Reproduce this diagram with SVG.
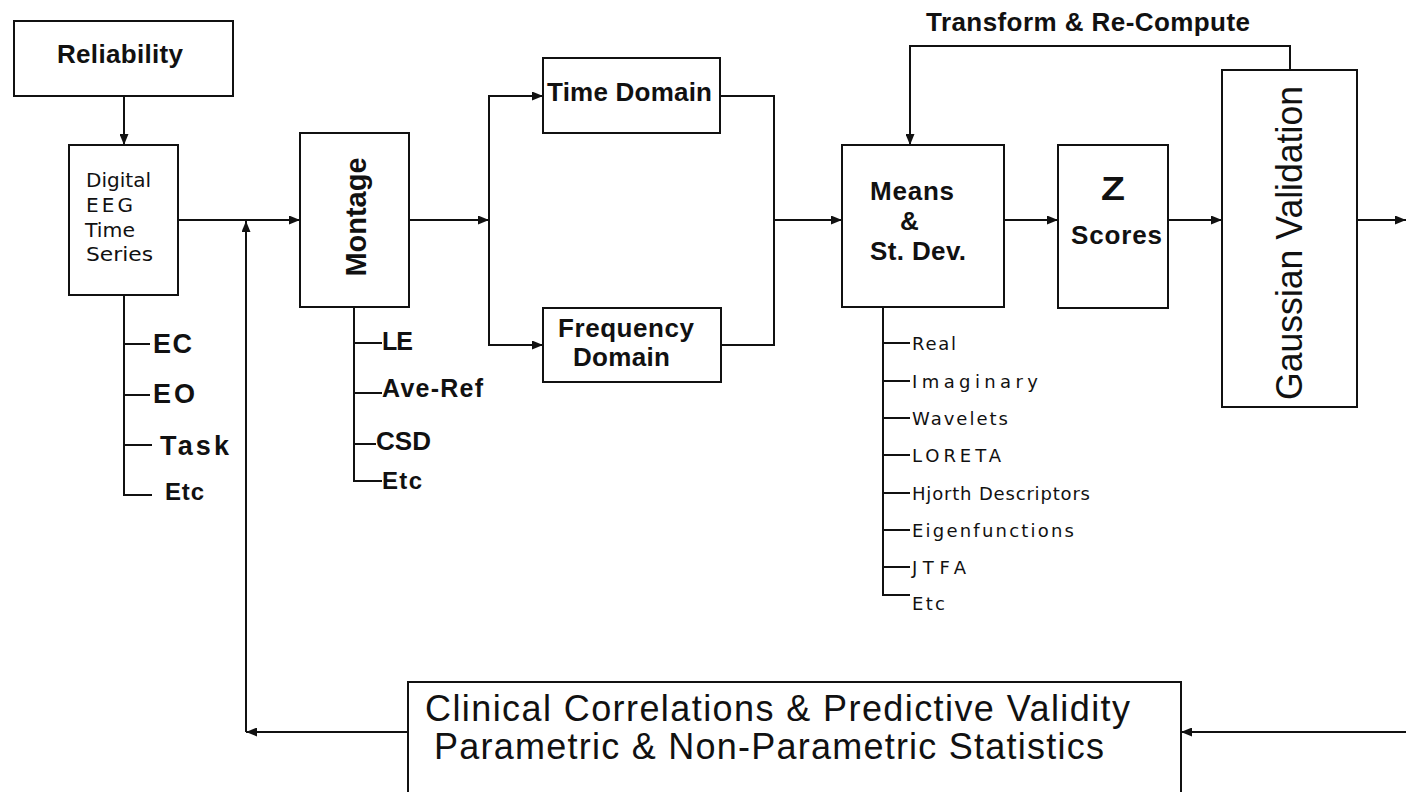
<svg xmlns="http://www.w3.org/2000/svg" width="1406" height="792" viewBox="0 0 1406 792">
<defs>
<marker id="arr" viewBox="0 0 11 9" refX="11" refY="4.5" markerWidth="11" markerHeight="9" markerUnits="userSpaceOnUse" orient="auto">
<path d="M0,0 L11,4.5 L0,9 z" fill="#111"/>
</marker>
<style>
.box{fill:#fff;stroke:#111;stroke-width:2}
.ln{fill:none;stroke:#111;stroke-width:2}
.ar{fill:none;stroke:#111;stroke-width:2;marker-end:url(#arr)}
.b{font-family:"Liberation Sans",Arial,sans-serif;font-weight:bold;fill:#111}
.r{font-family:"Liberation Sans",Arial,sans-serif;fill:#111}
.s{font-family:"DejaVu Sans",Verdana,sans-serif;font-size:18px;fill:#111}
.d{font-family:"DejaVu Sans",Verdana,sans-serif;font-size:20px;fill:#111}
</style>
</defs>
<rect width="1406" height="792" fill="#fff"/>

<g id="connectors">
<line class="ar" x1="124" y1="96" x2="124" y2="145"/>
<line class="ar" x1="178" y1="220" x2="300" y2="220"/>
<line class="ar" x1="408" y1="732" x2="246" y2="732"/>
<line class="ar" x1="246" y1="732" x2="246" y2="221"/>
<line class="ar" x1="409" y1="220" x2="489" y2="220"/>
<line class="ln" x1="489" y1="96" x2="489" y2="345"/>
<line class="ar" x1="488" y1="96" x2="543" y2="96"/>
<line class="ar" x1="488" y1="345" x2="543" y2="345"/>
<path class="ln" d="M721,96 H774 V345 H721"/>
<line class="ar" x1="774" y1="220" x2="842" y2="220"/>
<line class="ar" x1="1004" y1="220" x2="1058" y2="220"/>
<line class="ar" x1="1168" y1="220" x2="1222" y2="220"/>
<line class="ar" x1="1357" y1="220" x2="1406" y2="220"/>
<path class="ar" d="M1290,70 V46 H910 V145"/>
<line class="ar" x1="1406" y1="732" x2="1181" y2="732"/>
<path class="ln" d="M124,295 V495 H152 M124,344 H150 M124,395 H150 M124,445 H152"/>
<path class="ln" d="M354,307 V481 H382 M354,343 H382 M354,393 H382 M354,444 H376"/>
<path class="ln" d="M883,308 V595 H910 M883,343 H910 M883,381 H910 M883,418 H910 M883,455 H910 M883,493 H910 M883,530 H910 M883,567 H910"/>
</g>

<g id="reliability">
<rect class="box" x="14" y="21" width="219" height="75"/>
<text class="b" x="57" y="63" font-size="26" textLength="126">Reliability</text>
</g>

<g id="digital-eeg">
<rect class="box" x="69" y="145" width="109" height="150"/>
<text class="d" x="86" y="187" textLength="65" lengthAdjust="spacingAndGlyphs">Digital</text>
<text class="d" x="86" y="212" textLength="47">EEG</text>
<text class="d" x="85" y="237" textLength="50" lengthAdjust="spacingAndGlyphs">Time</text>
<text class="d" x="86" y="261" textLength="67" lengthAdjust="spacingAndGlyphs">Series</text>
</g>

<g id="conditions">
<text class="b" x="153" y="353" font-size="27" textLength="39">EC</text>
<text class="b" x="153" y="403" font-size="27" textLength="42">EO</text>
<text class="b" x="160" y="455" font-size="27" textLength="69">Task</text>
<text class="b" x="165" y="500" font-size="24" textLength="39">Etc</text>
</g>

<g id="montage">
<rect class="box" x="300" y="133" width="109" height="174"/>
<text class="b" transform="translate(366,217) rotate(-90)" text-anchor="middle" font-size="30" textLength="119" lengthAdjust="spacingAndGlyphs">Montage</text>
</g>

<g id="montage-types">
<text class="b" x="382" y="350" font-size="25" textLength="31">LE</text>
<text class="b" x="382" y="397" font-size="25" textLength="101">Ave-Ref</text>
<text class="b" x="376" y="450" font-size="26" textLength="55">CSD</text>
<text class="b" x="382" y="489" font-size="24" textLength="40">Etc</text>
</g>

<g id="time-domain">
<rect class="box" x="543" y="58" width="177" height="75"/>
<text class="b" x="547" y="101" font-size="26" textLength="165">Time Domain</text>
</g>

<g id="frequency-domain">
<rect class="box" x="543" y="308" width="178" height="74"/>
<text class="b" x="558" y="337" font-size="26" textLength="136">Frequency</text>
<text class="b" x="573" y="366" font-size="26" textLength="97">Domain</text>
</g>

<g id="means">
<rect class="box" x="842" y="145" width="162" height="162"/>
<text class="b" x="870" y="200" font-size="26" textLength="84">Means</text>
<text class="b" x="900" y="230" font-size="26" textLength="18">&amp;</text>
<text class="b" x="870" y="260" font-size="26" textLength="96">St. Dev.</text>
</g>

<g id="measures">
<text class="s" x="912" y="350" textLength="44">Real</text>
<text class="s" x="912" y="388" textLength="126">Imaginary</text>
<text class="s" x="912" y="425" textLength="96">Wavelets</text>
<text class="s" x="912" y="462" textLength="89">LORETA</text>
<text class="s" x="912" y="500" textLength="178">Hjorth Descriptors</text>
<text class="s" x="912" y="537" textLength="162">Eigenfunctions</text>
<text class="s" x="912" y="574" textLength="54">JTFA</text>
<text class="s" x="912" y="610" textLength="33">Etc</text>
</g>

<g id="z-scores">
<rect class="box" x="1058" y="145" width="110" height="163"/>
<text class="b" x="1101" y="200" font-size="33" textLength="24" lengthAdjust="spacingAndGlyphs">Z</text>
<text class="b" x="1071" y="244" font-size="26" textLength="91">Scores</text>
</g>

<g id="gaussian">
<rect class="box" x="1222" y="70" width="135" height="337"/>
<text class="r" transform="translate(1302,243) rotate(-90)" text-anchor="middle" font-size="37" textLength="314" lengthAdjust="spacingAndGlyphs">Gaussian Validation</text>
</g>

<g id="transform-label">
<text class="b" x="926" y="31" font-size="26" textLength="324">Transform &amp; Re-Compute</text>
</g>

<g id="clinical">
<rect class="box" x="408" y="682" width="773" height="130"/>
<text class="r" x="425" y="721" font-size="36" textLength="705">Clinical Correlations &amp; Predictive Validity</text>
<text class="r" x="434" y="759" font-size="36" textLength="670">Parametric &amp; Non-Parametric Statistics</text>
</g>
</svg>
